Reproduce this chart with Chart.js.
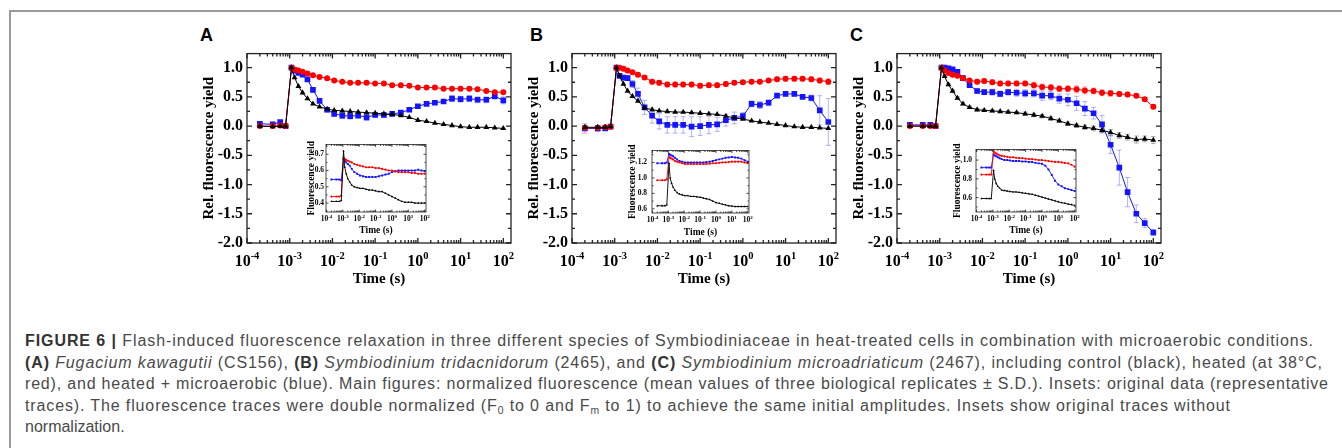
<!DOCTYPE html>
<html>
<head>
<meta charset="utf-8">
<script src="https://cdn.jsdelivr.net/npm/chart.js@4.4.0/dist/chart.umd.min.js"></script>
<style>
body { margin: 0; background: #fff; width: 1342px; height: 448px; overflow: hidden; position: relative; }
#frame { position: absolute; left: 9px; top: 10px; width: 1400px; height: 500px; border-left: 2px solid #9a9a9a; border-top: 2px solid #9a9a9a; }
canvas { position: absolute; }
.letter { position: absolute; top: 26px; font: bold 18px "Liberation Sans", Arial, sans-serif; line-height: 18px; color: #000; }
#caption { position: absolute; left: 25px; top: 330px; font-family: "Liberation Sans", Arial, sans-serif; font-size: 16px; line-height: 21.5px; color: #4a4a4a; white-space: nowrap; }
#caption b { color: #333; }
#caption .ln { display: block; width: max-content; }
#caption sub { font-size: 0.65em; vertical-align: -0.3em; line-height: 0; }
</style>
</head>
<body>
<div id="frame"></div>
<div class="letter" style="left:200px">A</div>
<div class="letter" style="left:530px">B</div>
<div class="letter" style="left:850px">C</div>

<canvas id="mainA" width="345" height="255" style="left:190px;top:40px"></canvas>
<canvas id="mainB" width="345" height="255" style="left:515px;top:40px"></canvas>
<canvas id="mainC" width="345" height="255" style="left:840px;top:40px"></canvas>
<canvas id="insetA" width="136" height="100" style="left:298px;top:138px"></canvas>
<canvas id="insetB" width="133" height="98" style="left:624px;top:141px"></canvas>
<canvas id="insetC" width="136" height="97" style="left:948px;top:141px"></canvas>

<div id="caption">
<div class="ln" data-w="1288"><b>FIGURE 6 |</b> Flash-induced fluorescence relaxation in three different species of Symbiodiniaceae in heat-treated cells in combination with microaerobic conditions.</div>
<div class="ln" data-w="1297"><b>(A)</b> <i>Fugacium kawagutii</i> (CS156), <b>(B)</b> <i>Symbiodinium tridacnidorum</i> (2465), and <b>(C)</b> <i>Symbiodinium microadriaticum</i> (2467), including control (black), heated (at 38°C,</div>
<div class="ln" data-w="1303">red), and heated + microaerobic (blue). Main figures: normalized fluorescence (mean values of three biological replicates ± S.D.). Insets: original data (representative</div>
<div class="ln" data-w="1205">traces). The fluorescence traces were double normalized (F<sub>0</sub> to 0 and F<sub>m</sub> to 1) to achieve the same initial amplitudes. Insets show original traces without</div>
<div class="ln">normalization.</div>
</div>

<script>
// time points (s), shared by all traces
const times = [2e-4, 4e-4, 6e-4, 8e-4, 1.1e-3, 1.3e-3, 1.6e-3, 2e-3, 2.6e-3, 3.5e-3, 5e-3, 7.5e-3,
  1.1e-2, 1.7e-2, 2.6e-2, 4e-2, 6.3e-2, 0.1, 0.16, 0.25, 0.4, 0.63, 1, 1.6, 2.5, 4, 6.3, 10, 16, 25, 40, 63, 100];
const xTickExps = [-4, -3, -2, -1, 0, 1, 2];
const mainYTicks = [-2.0, -1.5, -1.0, -0.5, 0.0, 0.5, 1.0];
const insetATicks = [0.4, 0.5, 0.6, 0.7];
const insetBTicks = [0.6, 0.8, 1.0, 1.2];
const insetCTicks = [0.6, 0.8, 1.0];

// panel A - Fugacium kawagutii
const aBlack = [0, -0.01, 0, 0, 1.0, 0.83, 0.68, 0.57, 0.47, 0.38, 0.33, 0.29, 0.27, 0.26, 0.25, 0.24, 0.23, 0.22, 0.21, 0.20, 0.18, 0.15, 0.10, 0.08, 0.05, 0.03, 0.01, -0.01, -0.02, -0.02, -0.02, -0.03, -0.04];
const aRed = [0, 0, 0.01, 0, 1.0, 0.97, 0.95, 0.93, 0.90, 0.87, 0.84, 0.82, 0.78, 0.76, 0.74, 0.74, 0.74, 0.73, 0.73, 0.70, 0.70, 0.69, 0.66, 0.66, 0.66, 0.64, 0.64, 0.64, 0.64, 0.63, 0.60, 0.58, 0.58];
const aBlue = [0.04, 0.03, 0.07, 0, 1.0, 0.95, 0.91, 0.88, 0.80, 0.62, 0.43, 0.28, 0.21, 0.18, 0.17, 0.18, 0.15, 0.19, 0.19, 0.21, 0.23, 0.28, 0.34, 0.38, 0.40, 0.42, 0.47, 0.46, 0.47, 0.45, 0.45, 0.51, 0.44];
const aBlueSd = [0.03, 0.02, 0.03, 0.02, 0, 0.02, 0.02, 0.02, 0.03, 0.03, 0.03, 0.04, 0.04, 0.05, 0.05, 0.04, 0.05, 0.04, 0.04, 0.03, 0.03, 0.03, 0.03, 0.03, 0.03, 0.03, 0.05, 0.05, 0.05, 0.05, 0.05, 0.05, 0.06];

// panel B - Symbiodinium tridacnidorum
const bBlack = [-0.02, -0.02, -0.02, -0.01, 1.0, 0.86, 0.72, 0.60, 0.51, 0.43, 0.31, 0.28, 0.26, 0.25, 0.24, 0.24, 0.23, 0.22, 0.21, 0.20, 0.17, 0.14, 0.12, 0.09, 0.07, 0.05, 0.03, 0.01, -0.01, -0.02, -0.02, -0.03, -0.04];
const bRed = [-0.03, -0.03, -0.02, -0.01, 1.0, 1.0, 0.98, 0.95, 0.92, 0.88, 0.83, 0.76, 0.74, 0.71, 0.71, 0.71, 0.71, 0.69, 0.70, 0.70, 0.72, 0.74, 0.75, 0.76, 0.76, 0.78, 0.80, 0.81, 0.81, 0.81, 0.80, 0.78, 0.76];
const bRedSd = [0.03, 0.03, 0.03, 0.02, 0, 0.02, 0.02, 0.02, 0.03, 0.03, 0.03, 0.04, 0.04, 0.04, 0.04, 0.04, 0.04, 0.04, 0.04, 0.04, 0.04, 0.03, 0.03, 0.03, 0.03, 0.03, 0.04, 0.04, 0.04, 0.04, 0.04, 0.04, 0.05];
const bBlue = [-0.04, -0.04, -0.04, -0.01, 1.0, 0.86, 0.83, 0.82, 0.72, 0.55, 0.32, 0.18, 0.08, 0.02, 0.02, 0.02, -0.01, 0.0, 0.02, 0.03, 0.10, 0.14, 0.17, 0.38, 0.36, 0.40, 0.52, 0.55, 0.55, 0.50, 0.48, 0.27, 0.07];
const bBlueSd = [0.08, 0.05, 0.03, 0.02, 0, 0.03, 0.03, 0.04, 0.06, 0.10, 0.12, 0.13, 0.13, 0.14, 0.14, 0.14, 0.17, 0.16, 0.15, 0.12, 0.10, 0.10, 0.06, 0.05, 0.06, 0.05, 0.03, 0.03, 0.03, 0.02, 0.05, 0.25, 0.40];

// panel C - Symbiodinium microadriaticum
const cBlack = [0, 0, 0, 0, 1.0, 0.85, 0.71, 0.60, 0.48, 0.38, 0.32, 0.28, 0.27, 0.26, 0.25, 0.24, 0.23, 0.21, 0.19, 0.17, 0.13, 0.09, 0.04, 0.01, -0.02, -0.04, -0.07, -0.11, -0.16, -0.19, -0.23, -0.22, -0.24];
const cBlackSd = [0.02, 0.02, 0.02, 0.02, 0, 0.02, 0.02, 0.02, 0.02, 0.02, 0.02, 0.02, 0.02, 0.02, 0.02, 0.02, 0.02, 0.03, 0.03, 0.03, 0.03, 0.03, 0.03, 0.03, 0.04, 0.04, 0.04, 0.05, 0.05, 0.05, 0.06, 0.05, 0.06];
const cRed = [0, 0, 0, 0, 1.0, 0.95, 0.91, 0.88, 0.86, 0.82, 0.78, 0.76, 0.77, 0.75, 0.73, 0.73, 0.73, 0.73, 0.70, 0.67, 0.66, 0.64, 0.64, 0.63, 0.61, 0.60, 0.57, 0.56, 0.55, 0.54, 0.52, 0.46, 0.33];
const cRedSd = [0.02, 0.02, 0.02, 0.02, 0, 0.03, 0.03, 0.03, 0.03, 0.03, 0.03, 0.04, 0.04, 0.04, 0.04, 0.04, 0.04, 0.04, 0.05, 0.05, 0.05, 0.05, 0.05, 0.06, 0.06, 0.05, 0.05, 0.05, 0.04, 0.04, 0.03, 0.03, 0.03];
const cBlue = [0.02, 0.02, 0.02, 0, 1.0, 1.0, 0.99, 0.97, 0.93, 0.82, 0.70, 0.60, 0.58, 0.58, 0.55, 0.58, 0.57, 0.56, 0.56, 0.52, 0.52, 0.47, 0.45, 0.39, 0.30, 0.22, 0.03, -0.32, -0.71, -1.13, -1.50, -1.66, -1.82];
const cBlueSd = [0.03, 0.03, 0.03, 0.02, 0, 0.03, 0.03, 0.03, 0.03, 0.03, 0.04, 0.04, 0.04, 0.05, 0.05, 0.05, 0.06, 0.06, 0.06, 0.08, 0.07, 0.08, 0.10, 0.12, 0.12, 0.10, 0.15, 0.15, 0.30, 0.25, 0.15, 0.08, 0.05];

// insets: original traces
const iaBlack = [0.41, 0.41, 0.41, 0.415, 0.72, 0.62, 0.58, 0.55, 0.53, 0.51, 0.50, 0.495, 0.49, 0.49, 0.485, 0.48, 0.48, 0.475, 0.47, 0.47, 0.46, 0.45, 0.44, 0.43, 0.42, 0.41, 0.405, 0.405, 0.405, 0.40, 0.40, 0.40, 0.40];
const iaRed = [0.44, 0.44, 0.44, 0.445, 0.68, 0.67, 0.665, 0.66, 0.655, 0.65, 0.64, 0.635, 0.63, 0.625, 0.62, 0.62, 0.62, 0.615, 0.615, 0.61, 0.605, 0.60, 0.60, 0.595, 0.59, 0.59, 0.59, 0.59, 0.585, 0.585, 0.58, 0.58, 0.58];
const iaBlue = [0.545, 0.545, 0.545, 0.54, 0.67, 0.66, 0.65, 0.64, 0.63, 0.61, 0.59, 0.58, 0.57, 0.565, 0.56, 0.56, 0.56, 0.56, 0.565, 0.57, 0.575, 0.58, 0.59, 0.595, 0.60, 0.60, 0.60, 0.60, 0.60, 0.60, 0.605, 0.60, 0.595];
const ibBlack = [0.64, 0.64, 0.64, 0.65, 1.19, 1.0, 0.93, 0.88, 0.84, 0.81, 0.79, 0.78, 0.77, 0.77, 0.76, 0.76, 0.755, 0.75, 0.74, 0.73, 0.72, 0.70, 0.68, 0.67, 0.66, 0.65, 0.64, 0.635, 0.63, 0.63, 0.63, 0.63, 0.63];
const ibRed = [0.97, 0.97, 0.97, 0.98, 1.27, 1.26, 1.25, 1.24, 1.22, 1.21, 1.20, 1.19, 1.18, 1.18, 1.18, 1.18, 1.18, 1.18, 1.18, 1.18, 1.185, 1.19, 1.19, 1.195, 1.20, 1.20, 1.205, 1.21, 1.21, 1.21, 1.21, 1.20, 1.19];
const ibBlue = [1.19, 1.19, 1.19, 1.20, 1.31, 1.30, 1.29, 1.28, 1.26, 1.24, 1.22, 1.21, 1.20, 1.20, 1.20, 1.20, 1.20, 1.20, 1.20, 1.205, 1.21, 1.22, 1.23, 1.24, 1.25, 1.26, 1.265, 1.27, 1.265, 1.26, 1.25, 1.23, 1.21];
const icBlack = [0.59, 0.59, 0.59, 0.59, 0.89, 0.80, 0.75, 0.72, 0.70, 0.68, 0.675, 0.67, 0.665, 0.66, 0.66, 0.655, 0.65, 0.645, 0.64, 0.635, 0.625, 0.615, 0.605, 0.595, 0.585, 0.575, 0.565, 0.555, 0.545, 0.54, 0.53, 0.525, 0.515];
const icRed = [0.845, 0.845, 0.845, 0.845, 1.10, 1.08, 1.07, 1.06, 1.05, 1.045, 1.04, 1.035, 1.03, 1.03, 1.025, 1.02, 1.02, 1.015, 1.01, 1.01, 1.005, 1.0, 1.0, 0.995, 0.99, 0.985, 0.98, 0.98, 0.975, 0.97, 0.965, 0.95, 0.93];
const icBlue = [0.92, 0.92, 0.92, 0.92, 1.06, 1.05, 1.04, 1.03, 1.02, 1.01, 1.0, 1.0, 0.995, 0.99, 0.99, 0.99, 0.985, 0.985, 0.98, 0.98, 0.97, 0.965, 0.96, 0.94, 0.90, 0.84, 0.78, 0.74, 0.72, 0.70, 0.69, 0.68, 0.67];

const serif = '"Liberation Serif", "Times New Roman", serif';
Chart.defaults.font.family = serif;
Chart.defaults.color = '#000';

// boxed axes with inward ticks, 10^n labels and error bars
const frameAxes = {
  id: 'frameAxes',
  beforeDraw(chart) {
    const a = chart.chartArea, ctx = chart.ctx;
    ctx.save();
    ctx.fillStyle = '#fff';
    ctx.fillRect(a.left, a.top, a.right - a.left, a.bottom - a.top);
    ctx.restore();
  },
  beforeDatasetsDraw(chart) {
    const ctx = chart.ctx, ys = chart.scales.y;
    chart.data.datasets.forEach((ds, i) => {
      if (!ds.sd) return;
      const meta = chart.getDatasetMeta(i);
      ctx.save();
      ctx.strokeStyle = ds.errColor;
      ctx.lineWidth = 1;
      ctx.beginPath();
      meta.data.forEach((pt, j) => {
        const v = ds.data[j].y, e = ds.sd[j];
        if (!e) return;
        const y1 = ys.getPixelForValue(v - e), y2 = ys.getPixelForValue(v + e);
        ctx.moveTo(pt.x, y1); ctx.lineTo(pt.x, y2);
        ctx.moveTo(pt.x - 2.5, y1); ctx.lineTo(pt.x + 2.5, y1);
        ctx.moveTo(pt.x - 2.5, y2); ctx.lineTo(pt.x + 2.5, y2);
      });
      ctx.stroke();
      ctx.restore();
    });
  },
  afterDraw(chart, args, o) {
    const ctx = chart.ctx, a = chart.chartArea, x = chart.scales.x, y = chart.scales.y;
    ctx.save();
    ctx.strokeStyle = '#222';
    ctx.lineWidth = o.lw;
    ctx.strokeRect(a.left, a.top, a.right - a.left, a.bottom - a.top);
    ctx.beginPath();
    const e0 = Math.floor(Math.log10(x.min)), e1 = Math.ceil(Math.log10(x.max));
    for (let e = e0; e <= e1; e++) {
      for (let k = 1; k <= 9; k++) {
        const v = k * Math.pow(10, e);
        if (v < x.min || v > x.max) continue;
        const px = x.getPixelForValue(v), len = k === 1 ? o.major : o.minor;
        ctx.moveTo(px, a.bottom); ctx.lineTo(px, a.bottom - len);
        ctx.moveTo(px, a.top); ctx.lineTo(px, a.top + len);
      }
    }
    const tv = y.ticks.map(t => t.value);
    const half = (tv[1] - tv[0]) / 2;
    for (let i = -2; ; i++) {
      const v = tv[0] + i * half;
      if (v > y.max + 1e-9) break;
      if (v < y.min - 1e-9) continue;
      const py = y.getPixelForValue(v), len = i % 2 === 0 ? o.major : o.minor;
      ctx.moveTo(a.left, py); ctx.lineTo(a.left + len, py);
      ctx.moveTo(a.right, py); ctx.lineTo(a.right - len, py);
    }
    ctx.stroke();

    ctx.fillStyle = '#000';
    ctx.textBaseline = 'alphabetic';
    ctx.textAlign = 'left';
    const baseFont = 'bold ' + o.fs + 'px ' + serif, expFont = 'bold ' + o.efs + 'px ' + serif;
    o.exps.forEach(e => {
      const px = x.getPixelForValue(Math.pow(10, e));
      const ex = String(e);
      ctx.font = baseFont;
      const w1 = ctx.measureText('10').width;
      ctx.font = expFont;
      const w2 = ctx.measureText(ex).width;
      const x0 = px - (w1 + w2) / 2, by = a.bottom + o.dy;
      ctx.font = baseFont;
      ctx.fillText('10', x0, by);
      ctx.font = expFont;
      ctx.fillText(ex, x0 + w1, by - o.rise);
    });
    ctx.restore();
  }
};

const styles = {
  black: { borderColor: '#000', backgroundColor: '#000', pointStyle: 'triangle', errColor: 'rgba(0,0,0,0.3)' },
  red: { borderColor: '#ff0000', backgroundColor: '#ff0000', pointStyle: 'circle', errColor: 'rgba(255,0,0,0.35)' },
  blue: { borderColor: '#1414ff', backgroundColor: '#1414ff', pointStyle: 'rect', errColor: 'rgba(40,40,255,0.35)' }
};

function trace(vals, style, sd, r, lw) {
  return Object.assign({
    data: times.map((t, i) => ({ x: t, y: vals[i] })),
    sd: sd,
    borderWidth: lw,
    pointRadius: style.pointStyle === 'rect' ? r * 1.25 : r,
    pointBorderWidth: 0,
    tension: 0
  }, style);
}

function mainChart(id, black, red, blue, sds) {
  return new Chart(document.getElementById(id), {
    type: 'line',
    data: { datasets: [
      trace(black, styles.black, sds.black, 3.4, 1),
      trace(red, styles.red, sds.red, 3, 1),
      trace(blue, styles.blue, sds.blue, 3.2, 1)
    ] },
    options: {
      responsive: false, animation: false, devicePixelRatio: 1,
      layout: { padding: { top: 10, right: 24, left: 0, bottom: 0 } },
      plugins: {
        legend: { display: false }, tooltip: { enabled: false },
        frameAxes: { lw: 1.3, major: 5, minor: 3, fs: 16, efs: 10.5, dy: 23, rise: 7, exps: xTickExps }
      },
      scales: {
        x: {
          type: 'logarithmic', min: 1e-4, max: Math.pow(10, 2.18),
          grid: { display: false, drawTicks: false }, border: { display: false },
          ticks: { display: false },
          title: { display: true, text: 'Time (s)', font: { size: 15, weight: 'bold' }, padding: { top: 0, bottom: 6.5 } },
          afterFit: s => { s.height = 52; }
        },
        y: {
          min: -2, max: 1.24,
          grid: { display: false, drawTicks: false }, border: { display: false },
          afterBuildTicks: s => { s.ticks = mainYTicks.map(v => ({ value: v })); },
          ticks: { callback: v => v.toFixed(1), font: { size: 16, weight: 'bold' }, padding: 4 },
          title: { display: true, text: 'Rel. fluorescence yield', font: { size: 15, weight: 'bold' }, padding: { top: 10, bottom: 0 } },
          afterFit: s => { s.width = 57; }
        }
      }
    },
    plugins: [frameAxes]
  });
}

function insetChart(id, black, red, blue, yMin, yMax, yTicks, lay) {
  return new Chart(document.getElementById(id), {
    type: 'line',
    data: { datasets: [
      trace(black, styles.black, null, 1.3, 0.9),
      trace(red, styles.red, null, 1.1, 0.9),
      trace(blue, styles.blue, null, 1.1, 0.9)
    ] },
    options: {
      responsive: false, animation: false, devicePixelRatio: 1,
      layout: { padding: { top: 5, right: 8, left: 0, bottom: 0 } },
      plugins: {
        legend: { display: false }, tooltip: { enabled: false },
        frameAxes: { lw: 0.8, major: 2.5, minor: 1.5, fs: 7.5, efs: 5, dy: 9, rise: 3.2, exps: xTickExps }
      },
      scales: {
        x: {
          type: 'logarithmic', min: Math.pow(10, -4.03), max: Math.pow(10, 2.08),
          grid: { display: false, drawTicks: false }, border: { display: false },
          ticks: { display: false },
          title: { display: true, text: 'Time (s)', font: { size: 9.5, weight: 'bold' }, padding: { top: 0, bottom: lay.xPad } },
          afterFit: s => { s.height = 26; }
        },
        y: {
          min: yMin, max: yMax,
          grid: { display: false, drawTicks: false }, border: { display: false },
          afterBuildTicks: s => { s.ticks = yTicks.map(v => ({ value: v })); },
          ticks: { callback: v => v.toFixed(1), font: { size: 7.5, weight: 'bold' }, padding: lay.labelPad },
          title: { display: true, text: 'Fluorescence yield', font: { size: 9.5, weight: 'bold' }, padding: { top: lay.titlePad, bottom: 0 } },
          afterFit: s => { s.width = 28; }
        }
      }
    },
    plugins: [frameAxes]
  });
}

mainChart('mainA', aBlack, aRed, aBlue, { blue: aBlueSd });
mainChart('mainB', bBlack, bRed, bBlue, { red: bRedSd, blue: bBlueSd });
mainChart('mainC', cBlack, cRed, cBlue, { black: cBlackSd, red: cRedSd, blue: cBlueSd });
insetChart('insetA', iaBlack, iaRed, iaBlue, 0.345, 0.76, insetATicks, { titlePad: 8, labelPad: 2, xPad: 1.9 });
insetChart('insetB', ibBlack, ibRed, ibBlue, 0.546, 1.355, insetBTicks, { titlePad: 3.3, labelPad: 5, xPad: 0.3 });
insetChart('insetC', icBlack, icRed, icBlue, 0.446, 1.113, insetCTicks, { titlePad: 4.3, labelPad: 4, xPad: 1.9 });

// fit each caption line to the reference line length with letter spacing
document.querySelectorAll('#caption .ln').forEach(ln => {
  const target = Number(ln.dataset.w);
  if (!target) return;
  const w = ln.getBoundingClientRect().width;
  const n = ln.textContent.length - 1;
  ln.style.letterSpacing = ((target - w) / n) + 'px';
});
</script>
</body>
</html>
